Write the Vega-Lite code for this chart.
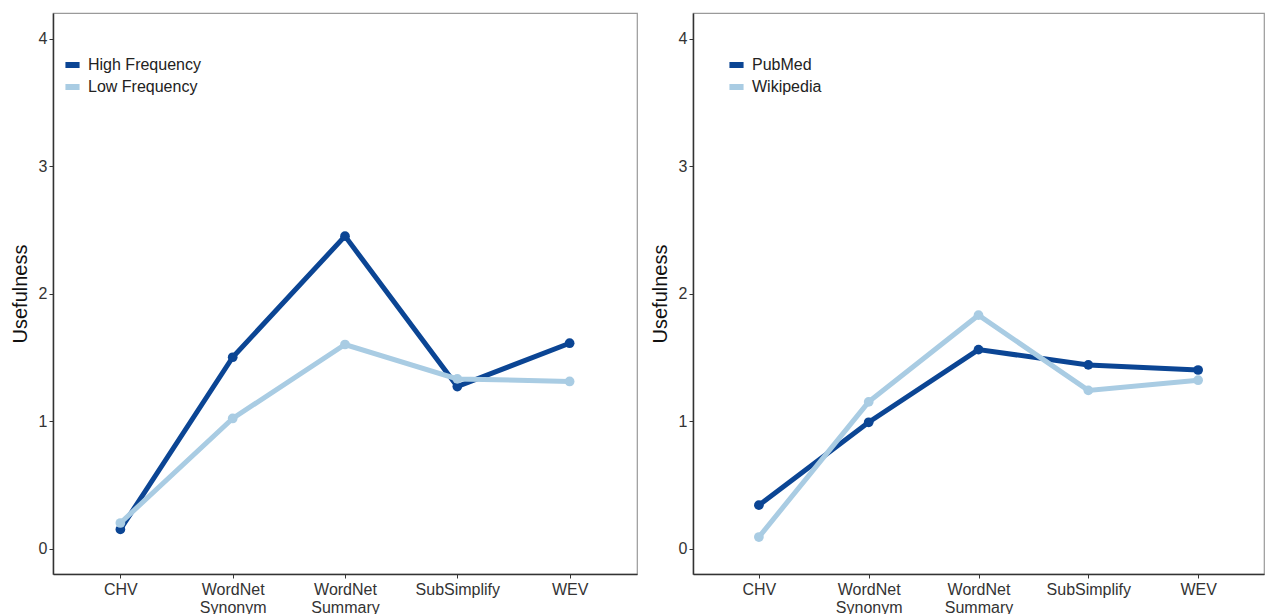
{
  "$schema": "https://vega.github.io/schema/vega-lite/v6.json",
  "padding": {"left": 9, "top": 12, "right": 0, "bottom": 0},
  "spacing": 11,
  "config": {
    "font": "Liberation Sans",
    "view": {"stroke": "#9a9a9a", "strokeWidth": 1.2},
    "axis": {"grid": false, "domainColor": "#333333", "domainWidth": 1.5, "tickColor": "#333333", "tickSize": 4, "labelColor": "#333333", "labelFontSize": 16, "titleFontSize": 20, "titleFontWeight": "normal", "titleColor": "#111111"},
    "legend": {"labelFontSize": 16, "labelColor": "#222222"}
  },
  "resolve": {"scale": {"color": "independent"}},
  "hconcat": [
    {
      "width": 584,
      "height": 561,
      "data": {"values": [
        {"method": "CHV", "group": "High Frequency", "value": 0.15},
        {"method": "WordNet Synonym", "group": "High Frequency", "value": 1.5},
        {"method": "WordNet Summary", "group": "High Frequency", "value": 2.45},
        {"method": "SubSimplify", "group": "High Frequency", "value": 1.27},
        {"method": "WEV", "group": "High Frequency", "value": 1.61},
        {"method": "CHV", "group": "Low Frequency", "value": 0.2},
        {"method": "WordNet Synonym", "group": "Low Frequency", "value": 1.02},
        {"method": "WordNet Summary", "group": "Low Frequency", "value": 1.6},
        {"method": "SubSimplify", "group": "Low Frequency", "value": 1.33},
        {"method": "WEV", "group": "Low Frequency", "value": 1.31}
      ]},
      "encoding": {
        "x": {"field": "method", "type": "nominal", "sort": ["CHV", "WordNet Synonym", "WordNet Summary", "SubSimplify", "WEV"], "scale": {"type": "point", "padding": 0.6}, "axis": {"title": null, "labelAngle": 0, "labelExpr": "split(datum.label, ' ')", "labelPadding": 3}},
        "y": {"field": "value", "type": "quantitative", "scale": {"domain": [-0.2, 4.2], "nice": false, "zero": false}, "axis": {"title": "Usefulness", "values": [0, 1, 2, 3, 4], "titlePadding": 8}},
        "color": {"field": "group", "type": "nominal", "scale": {"domain": ["High Frequency", "Low Frequency"], "range": ["#0b4594", "#a9cce3"]}, "legend": {"title": null, "orient": "none", "legendX": 9, "legendY": 41, "symbolType": "stroke", "symbolStrokeWidth": 6, "symbolSize": 200, "labelOffset": 5, "rowPadding": 0, "clipHeight": 22}}
      },
      "layer": [
        {"mark": {"type": "line", "strokeWidth": 5}},
        {"mark": {"type": "circle", "size": 95, "opacity": 1}}
      ]
    },
    {
      "width": 571,
      "height": 561,
      "data": {"values": [
        {"method": "CHV", "group": "PubMed", "value": 0.34},
        {"method": "WordNet Synonym", "group": "PubMed", "value": 0.99},
        {"method": "WordNet Summary", "group": "PubMed", "value": 1.56},
        {"method": "SubSimplify", "group": "PubMed", "value": 1.44},
        {"method": "WEV", "group": "PubMed", "value": 1.4},
        {"method": "CHV", "group": "Wikipedia", "value": 0.09},
        {"method": "WordNet Synonym", "group": "Wikipedia", "value": 1.15},
        {"method": "WordNet Summary", "group": "Wikipedia", "value": 1.83},
        {"method": "SubSimplify", "group": "Wikipedia", "value": 1.24},
        {"method": "WEV", "group": "Wikipedia", "value": 1.32}
      ]},
      "encoding": {
        "x": {"field": "method", "type": "nominal", "sort": ["CHV", "WordNet Synonym", "WordNet Summary", "SubSimplify", "WEV"], "scale": {"type": "point", "padding": 0.6}, "axis": {"title": null, "labelAngle": 0, "labelExpr": "split(datum.label, ' ')", "labelPadding": 3}},
        "y": {"field": "value", "type": "quantitative", "scale": {"domain": [-0.2, 4.2], "nice": false, "zero": false}, "axis": {"title": "Usefulness", "values": [0, 1, 2, 3, 4], "titlePadding": 8}},
        "color": {"field": "group", "type": "nominal", "scale": {"domain": ["PubMed", "Wikipedia"], "range": ["#0b4594", "#a9cce3"]}, "legend": {"title": null, "orient": "none", "legendX": 33, "legendY": 41, "symbolType": "stroke", "symbolStrokeWidth": 6, "symbolSize": 200, "labelOffset": 5, "rowPadding": 0, "clipHeight": 22}}
      },
      "layer": [
        {"mark": {"type": "line", "strokeWidth": 5}},
        {"mark": {"type": "circle", "size": 95, "opacity": 1}}
      ]
    }
  ]
}
